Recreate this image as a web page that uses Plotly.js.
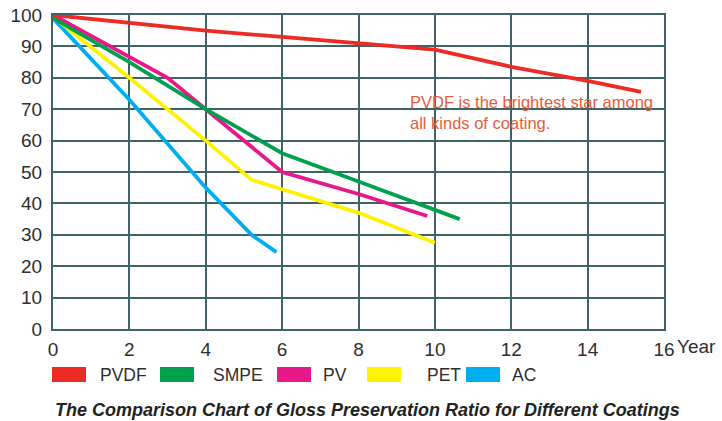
<!DOCTYPE html>
<html>
<head>
<meta charset="utf-8">
<script src="https://cdn.plot.ly/plotly-3.0.1.min.js"></script>
<style>html,body{margin:0;padding:0;background:#fff;}#chart{width:722px;height:421px;}</style>
</head>
<body>
<div id="chart"></div>
<script>
// ---- data ----
const seriesNames = ["PVDF", "SMPE", "PV", "PET", "AC"];
const seriesColors = ["#ee2a24", "#00a04c", "#e8178a", "#fff200", "#00aeef"];

const pvdfX = [0, 2, 4, 6, 8, 10, 12, 14, 15.4];
const pvdfY = [100, 97.5, 95, 93, 91, 89, 83.5, 79, 75.5];

const smpeX = [0, 2, 4, 6, 8, 10.65];
const smpeY = [99, 85, 70, 56, 47, 35];

const pvX = [0, 3, 4, 6, 8, 9.8];
const pvY = [100, 80, 70, 50, 43, 36];

const petX = [0.2, 2, 4, 5.2, 6, 8, 10];
const petY = [97.5, 80, 60, 47.5, 44.5, 37, 27.5];

const acX = [0, 2, 4, 5.2, 5.85];
const acY = [99, 73, 45, 30, 24.5];

const xTickVals = [0, 2, 4, 6, 8, 10, 12, 14, 16];
const xTickText = ["0", "2", "4", "6", "8", "10", "12", "14", "16"];
const yTickVals = [0, 10, 20, 30, 40, 50, 60, 70, 80, 90, 100];

const noteText = "PVDF is the brightest star among<br>all kinds of coating.";
const chartTitle = "The Comparison Chart of Gloss Preservation Ratio for Different Coatings";

// ---- build ----
const xs = [pvdfX, smpeX, pvX, petX, acX];
const ys = [pvdfY, smpeY, pvY, petY, acY];
const order = [4, 3, 2, 1, 0];
const traces = order.map(i => ({
  type: "scatter", mode: "lines", name: seriesNames[i],
  x: xs[i], y: ys[i],
  line: {color: seriesColors[i], width: 3.8},
  showlegend: false, hoverinfo: "skip"
}));

const font = "Liberation Sans, Arial, sans-serif";

const rectLeft = [52, 160, 277, 367, 466];
const textLeft = [100, 213, 323, 427, 512];
const plotL = 53, plotW = 611, plotB = 329, plotH = 314;
const px2x = p => (p - plotL) / plotW;
const px2y = p => (plotB - p) / plotH;

const shapes = seriesNames.map((n, i) => ({
  type: "rect", xref: "paper", yref: "paper",
  x0: px2x(rectLeft[i]), x1: px2x(rectLeft[i] + 34),
  y0: px2y(382), y1: px2y(367),
  fillcolor: seriesColors[i], line: {width: 0}
}));

const annotations = seriesNames.map((n, i) => ({
  xref: "paper", yref: "paper", x: px2x(textLeft[i] - 2), y: px2y(375),
  xanchor: "left", yanchor: "middle", text: n, showarrow: false,
  font: {family: font, size: 17.5, color: "#2e2e2e"}
}));

annotations.push({
  xref: "x", yref: "y", x: 9.3, y: 68.8, xanchor: "left", yanchor: "middle",
  text: noteText, showarrow: false, align: "left",
  font: {family: font, size: 16.5, color: "#ea5a3a"}
});
annotations.push({
  xref: "paper", yref: "paper", x: px2x(675), y: px2y(346),
  xanchor: "left", yanchor: "middle", text: "Year", showarrow: false,
  font: {family: font, size: 19, color: "#2e2e2e"}
});
annotations.push({
  xref: "paper", yref: "paper", x: px2x(367), y: px2y(410),
  xanchor: "center", yanchor: "middle",
  text: "<b><i>" + chartTitle + "</i></b>", showarrow: false,
  font: {family: font, size: 18, color: "#222"}
});

const gridColor = "#3f6468";
const layout = {
  width: 722, height: 421,
  margin: {l: plotL, r: 722 - plotL - plotW, t: 15, b: 421 - plotB},
  paper_bgcolor: "#ffffff", plot_bgcolor: "#ffffff",
  showlegend: false,
  xaxis: {
    range: [0, 16], tickvals: xTickVals, ticktext: xTickText,
    showgrid: true, gridcolor: gridColor, gridwidth: 2,
    showline: true, linecolor: gridColor, linewidth: 2, mirror: true,
    zeroline: false, ticks: "", ticklen: 0, ticklabelstandoff: 2,
    tickfont: {family: font, size: 19, color: "#2e2e2e"}
  },
  yaxis: {
    range: [0, 100], tickvals: yTickVals,
    showgrid: true, gridcolor: gridColor, gridwidth: 2,
    showline: true, linecolor: gridColor, linewidth: 2, mirror: true,
    zeroline: false, ticks: "", ticklen: 0, ticklabelstandoff: 5,
    tickfont: {family: font, size: 19, color: "#2e2e2e"}
  },
  shapes: shapes,
  annotations: annotations
};

Plotly.newPlot("chart", traces, layout, {displayModeBar: false, staticPlot: true});
</script>
</body>
</html>
